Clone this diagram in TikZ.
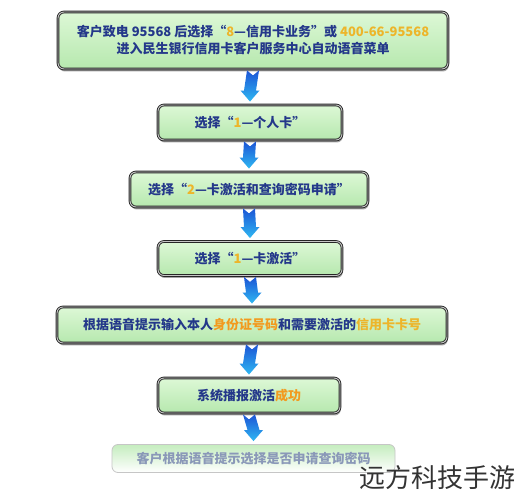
\documentclass[tikz,border=0pt]{standalone}
\usepackage{fontspec}
\newfontfamily\cjk{Noto Sans CJK SC}
\usetikzlibrary{calc,shadows}
\definecolor{txtblue}{HTML}{24388A}
\definecolor{hiyel}{HTML}{EDB52A}
\definecolor{hiora}{HTML}{F29A1E}
\definecolor{boxtop}{HTML}{DDF8D6}
\definecolor{boxbot}{HTML}{B6E8AE}
\definecolor{arrtop}{HTML}{1C55D6}
\definecolor{arrbot}{HTML}{2FB8F2}
\definecolor{fadetxt}{HTML}{8A98B8}
\tikzset{
  stepbox/.style={rectangle, rounded corners=6pt, top color=boxtop, bottom color=boxbot,
    draw=black!85, line width=0.9pt, double=gray!45, double distance=0.9pt,
    drop shadow={shadow xshift=0.8pt, shadow yshift=-2.5pt, opacity=0.7},
    font=\cjk\bfseries\fontsize{13}{17}\selectfont, text=txtblue, align=center,
    inner sep=0pt},
  fadebox/.style={rectangle, rounded corners=6pt, top color=boxbot!80, bottom color=white,
    draw=gray!45, line width=0.8pt,
    font=\cjk\bfseries\fontsize{13}{17}\selectfont, text=fadetxt, align=center,
    inner sep=0pt},
  flowarrow/.style={top color=arrtop, bottom color=arrbot, draw=none}
}
\newcommand{\downarrowshape}[2]{%
  \shade[flowarrow] ($(#1.south)+(-6,-1)$) -- ($(#1.south)+(0,-6)$) -- ($(#1.south)+(6,-1)$)
    -- ($(#2.north)+(6,14)$) -- ($(#2.north)+(9.5,14)$) -- ($(#2.north)+(0,3)$)
    -- ($(#2.north)+(-9.5,14)$) -- ($(#2.north)+(-6,14)$) -- cycle;}
\begin{document}
\begin{tikzpicture}[x=1pt,y=1pt]
\useasboundingbox[fill=white] (0,0) rectangle (516,500);
\node[stepbox, minimum width=390pt, minimum height=57pt] (b1) at (253,459.5)
  {客户致电 95568 后选择“{\color{hiyel}8}—信用卡业务”或 {\color{hiyel}400-66-95568}\\进入民生银行信用卡客户服务中心自动语音菜单};
\node[stepbox, minimum width=184pt, minimum height=35pt] (b2) at (250,377.5)
  {选择“{\color{hiyel}1}—个人卡”};
\node[stepbox, minimum width=238pt, minimum height=35pt] (b3) at (249,310.5)
  {选择“{\color{hiyel}2}—卡激活和查询密码申请”};
\node[stepbox, minimum width=184pt, minimum height=34pt] (b4) at (250,241.5)
  {选择“{\color{hiyel}1}—卡激活”};
\node[stepbox, minimum width=390pt, minimum height=36pt] (b5) at (252,175)
  {根据语音提示输入本人{\color{hiora}身份证号码}和需要激活的{\color{hiyel}信用卡卡号}};
\node[stepbox, minimum width=182pt, minimum height=35pt] (b6) at (249,104.5)
  {系统播报激活{\color{hiora}成功}};
\node[fadebox, minimum width=283pt, minimum height=28pt] (b7) at (253.5,41.5)
  {客户根据语音提示选择是否申请查询密码};
\downarrowshape{b1}{b2}
\downarrowshape{b2}{b3}
\downarrowshape{b3}{b4}
\downarrowshape{b4}{b5}
\downarrowshape{b5}{b6}
\downarrowshape{b6}{b7}
\node[font=\cjk\fontsize{26}{30}\selectfont, text=black!80, inner sep=0pt, anchor=east] (wm) at (516,22) {远方科技手游};
\end{tikzpicture}
\end{document}
